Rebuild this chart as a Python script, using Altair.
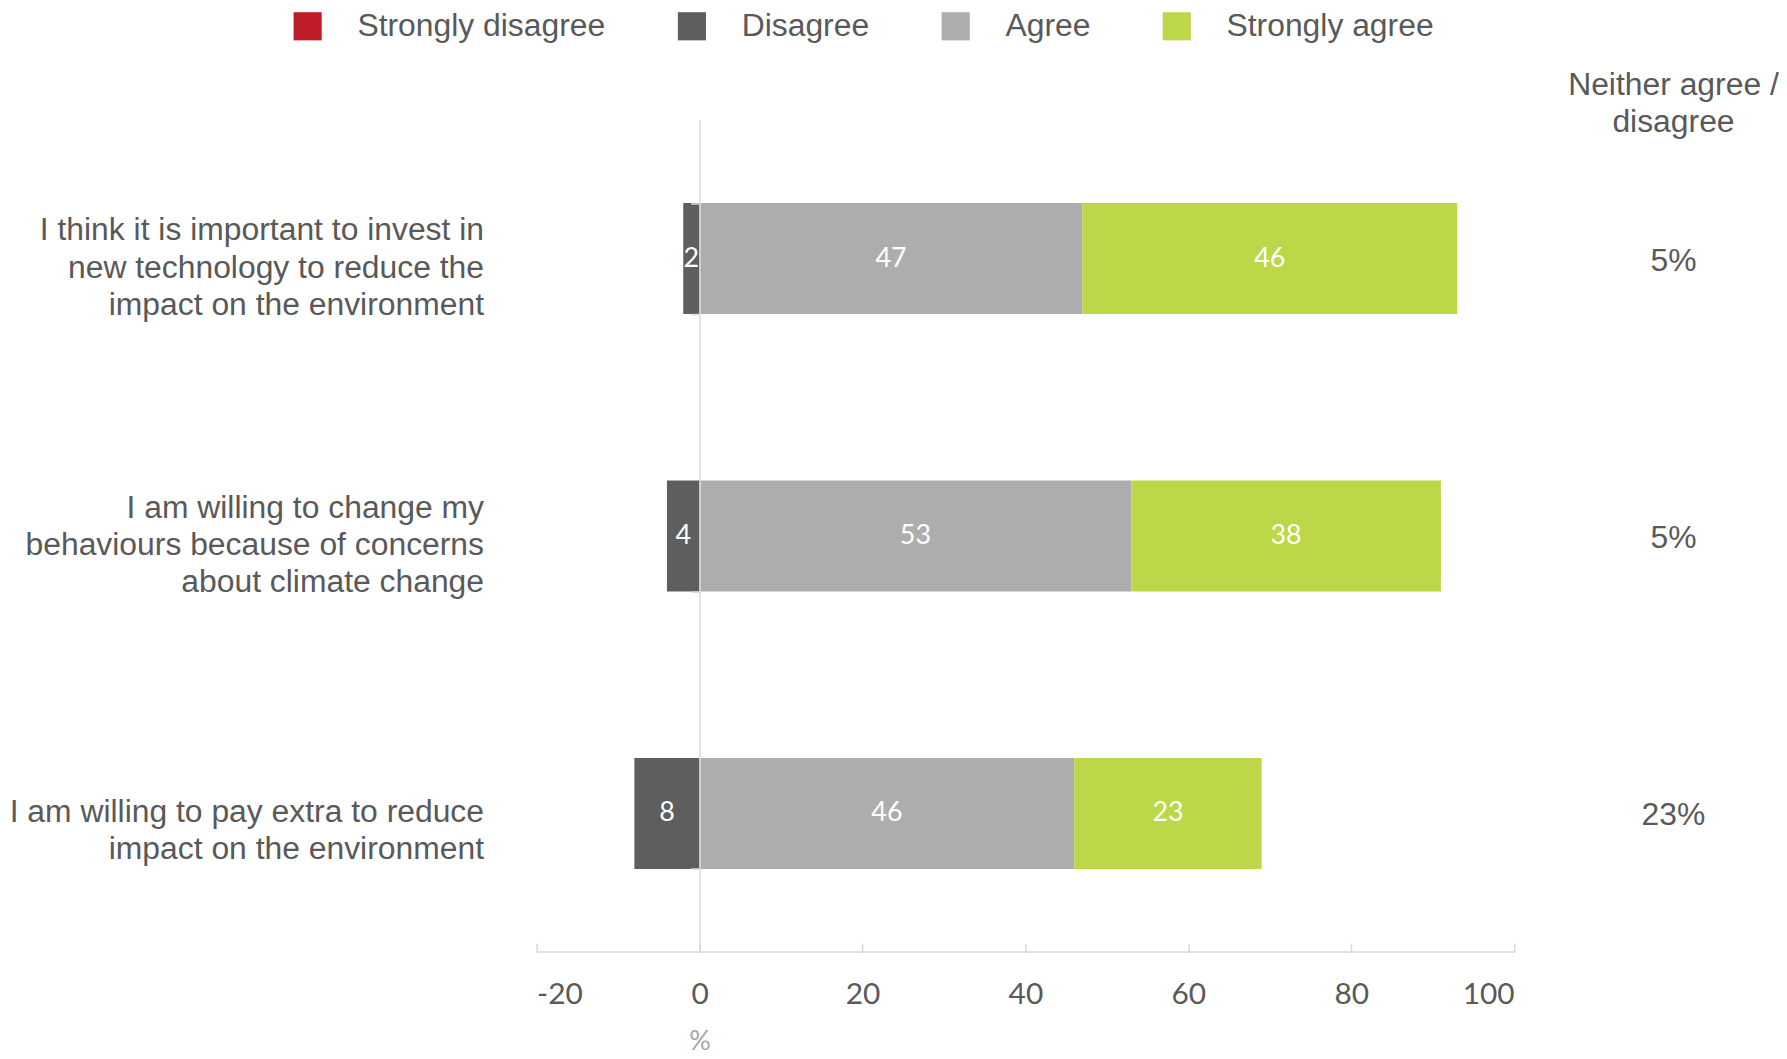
import altair as alt
import pandas as pd

statements = [
    "I think it is important to invest in|new technology to reduce the|impact on the environment",
    "I am willing to change my|behaviours because of concerns|about climate change",
    "I am willing to pay extra to reduce|impact on the environment",
]
strongly_disagree = [0, 0, 0]
disagree = [2, 4, 8]
agree = [47, 53, 46]
strongly_agree = [46, 38, 23]
neither = ["5%", "5%", "23%"]
categories = ["Strongly disagree", "Disagree", "Agree", "Strongly agree"]
colors = ["#BF1E28", "#5E5E5E", "#ADADAD", "#BCD747"]
x_ticks = [-20, 0, 20, 40, 60, 80, 100]
neither_header = ["Neither agree /", "disagree"]

rows = []
for i, s in enumerate(statements):
    sd, d, a, sa = strongly_disagree[i], disagree[i], agree[i], strongly_agree[i]
    rows.append(dict(statement=s, category="Strongly disagree", value=sd, start=-(d + sd), end=-d))
    rows.append(dict(statement=s, category="Disagree", value=d, start=-d, end=0))
    rows.append(dict(statement=s, category="Agree", value=a, start=0, end=a))
    rows.append(dict(statement=s, category="Strongly agree", value=sa, start=a, end=a + sa))
df = pd.DataFrame(rows)
df["mid"] = (df["start"] + df["end"]) / 2

neither_df = pd.DataFrame({"statement": statements, "neither": neither})
axis_df = pd.DataFrame({"x0": [min(x_ticks)], "x1": [max(x_ticks)]})
header_df = pd.DataFrame({"h": [0]})

W, H = 982, 836
GRAY = "#595959"
LINE = "#D9D9D9"

x_scale = alt.Scale(domain=[min(x_ticks), max(x_ticks)], nice=False, zero=False)
y_scale = alt.Scale(domain=statements, paddingInner=0.6, paddingOuter=0.3)

zero_px = W * (0 - min(x_ticks)) / (max(x_ticks) - min(x_ticks))

y_axis = alt.Axis(
    title=None,
    labelExpr="split(datum.label, '|')",
    labelFont="Liberation Sans",
    labelFontSize=32,
    labelColor=GRAY,
    labelLineHeight=37.6,
    labelLimit=700,
    labelPadding=208,
    labelOffset={"condition": {"test": "length(split(datum.value, '|')) > 2", "value": -29}, "value": -2},
    labelAlign="right",
    labelBaseline="middle",
    offset=-zero_px,
    domainColor=LINE,
    domainWidth=1.5,
    tickColor=LINE,
    tickSize=9,
    tickWidth=1.5,
    tickBand="extent",
    grid=False,
    zindex=1,
)

x_axis = alt.Axis(
    values=x_ticks,
    labelExpr="'' + datum.value",
    title="%",
    titleFont="Lato",
    titleFontSize=27,
    titleColor="#A6A6A6",
    titleFontWeight="normal",
    titleX=zero_px,
    titleY=99,
    titleAlign="center",
    titleBaseline="middle",
    labelFont="Lato",
    labelFontSize=30,
    labelColor=GRAY,
    labelPadding=28,
    offset=-9,
    domain=False,
    tickColor=LINE,
    tickSize=9,
    tickWidth=1.5,
    grid=False,
)

bars = alt.Chart(df).mark_bar().encode(
    x=alt.X("start:Q", scale=x_scale, axis=x_axis),
    x2="end:Q",
    y=alt.Y("statement:N", scale=y_scale, axis=y_axis, sort=statements),
    color=alt.Color(
        "category:N",
        scale=alt.Scale(domain=categories, range=colors),
        legend=alt.Legend(
            orient="none",
            legendX=-246,
            legendY=-110,
            direction="horizontal",
            title=None,
            symbolType="square",
            symbolSize=800,
            symbolStrokeWidth=0,
            symbolOpacity=1,
            labelFont="Liberation Sans",
            labelFontSize=32,
            labelColor=GRAY,
            labelOffset=34,
            labelLimit=400,
            columnPadding=70,
            padding=0,
        ),
    ),
)

labels = alt.Chart(df).transform_filter("datum.value > 0").mark_text(
    color="white", font="Lato", fontSize=27, align="center", baseline="middle"
).encode(
    x=alt.X("mid:Q", scale=x_scale),
    y=alt.Y("statement:N", scale=y_scale, sort=statements),
    text="value:Q",
)

bottom_line = alt.Chart(axis_df).mark_rule(color=LINE, strokeWidth=1.5).encode(
    x=alt.X("x0:Q", scale=x_scale),
    x2="x1:Q",
    y=alt.value(H),
)

neither_text = alt.Chart(neither_df).mark_text(
    font="Liberation Sans", fontSize=32, color=GRAY, align="center", baseline="middle", dy=2
).encode(
    x=alt.value(1142),
    y=alt.Y("statement:N", scale=y_scale, sort=statements),
    text="neither:N",
)

header = alt.Chart(header_df).mark_text(
    text=neither_header,
    font="Liberation Sans",
    fontSize=32,
    color=GRAY,
    align="center",
    baseline="middle",
    lineHeight=37.6,
).encode(x=alt.value(1142), y=alt.value(-35))

chart = (
    alt.layer(bars, labels, bottom_line, neither_text, header)
    .properties(width=W, height=H, padding=0, background="white")
    .configure_view(stroke=None)
)

chart.save("out.html", embed_options={"renderer": "svg", "actions": False})
